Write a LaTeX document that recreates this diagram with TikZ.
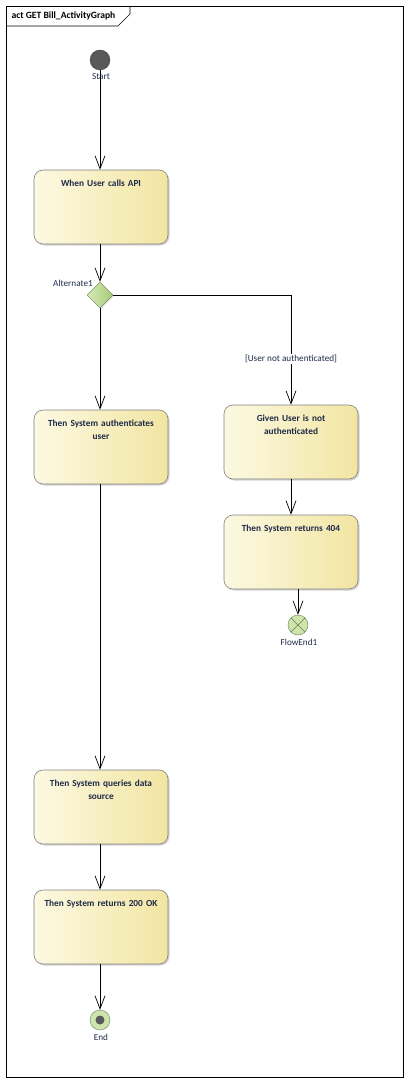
\documentclass[tikz,border=0pt]{standalone}
\usepackage{fontspec}
\setmainfont{Carlito}
\usetikzlibrary{arrows.meta,shadows,shapes.geometric}
\definecolor{boxleft}{HTML}{FCF9E2}
\definecolor{boxright}{HTML}{F2E5A2}
\definecolor{boxline}{HTML}{808080}
\definecolor{txt}{HTML}{1E2A48}
\definecolor{greenleft}{HTML}{D6EABA}
\definecolor{greenright}{HTML}{A8CB74}
\definecolor{greenline}{HTML}{6B7D55}
\definecolor{dot}{HTML}{595959}
\begin{document}
\begin{tikzpicture}[x=1pt,y=-1pt,
    action/.style={draw=boxline,line width=0.6pt,rounded corners=9pt,
        minimum width=134pt,minimum height=74pt,inner sep=0pt,
        left color=boxleft,right color=boxright,
        drop shadow={shadow xshift=1.5pt,shadow yshift=-1.5pt,opacity=0.35}},
    acttext/.style={anchor=north,yshift=-7pt,align=center,text width=126pt,
        text=txt,font=\bfseries\fontsize{9.3}{13}\selectfont},
    small/.style={text=txt,font=\fontsize{9.2}{11}\selectfont,inner sep=1pt},
    flow/.style={line width=0.7pt,-{Straight Barb[length=13pt,width=10pt,line width=0.7pt]}}]
\useasboundingbox (0,0) rectangle (409,1083);
\draw [black,line width=0.6pt] (6,6) rectangle (403,1077);
\draw [black,line width=0.6pt] (6,26) -- (118,26) -- (130,14) -- (130,6);
\node [anchor=west,text=black,font=\bfseries\fontsize{9.6}{11}\selectfont] (title) at (8,16) {act GET Bill\_ActivityGraph};
\node [circle,fill=dot,draw=dot!80!black,minimum size=20pt,inner sep=0pt] (start) at (100,60) {};
\node [small] (startlbl) at (101,77) {Start};
\node [action,label={[acttext]north:When User calls API}] (calls) at (101,207) {};
\node [diamond,draw=greenline,left color=greenleft,right color=greenright,
    minimum width=26pt,minimum height=26pt,inner sep=0pt,
    drop shadow={shadow xshift=1pt,shadow yshift=-1pt,opacity=0.3}] (alt) at (100,295) {};
\node [small,anchor=east] (altlbl) at (94,283) {Alternate1};
\node [action,label={[acttext]north:{Then System authenticates\\user}}] (auth) at (101,447) {};
\node [action,label={[acttext]north:{Given User is not\\authenticated}}] (notauth) at (291,442) {};
\node [action,label={[acttext]north:Then System returns 404}] (ret404) at (291,552) {};
\node [circle,draw=greenline,fill=greenleft!80!greenright,minimum size=20pt,inner sep=0pt,
    path picture={\draw [greenline,line width=0.6pt]
        (path picture bounding box.north west) -- (path picture bounding box.south east)
        (path picture bounding box.north east) -- (path picture bounding box.south west);}] (flowend) at (298,625) {};
\node [small] (flowendlbl) at (299,642) {FlowEnd1};
\node [action,label={[acttext]north:{Then System queries data\\source}}] (queries) at (101,807) {};
\node [action,label={[acttext]north:Then System returns 200 OK}] (ret200) at (101,927) {};
\node [circle,draw=greenline,fill=greenleft!80!greenright,minimum size=20pt,inner sep=0pt] (end) at (100,1020) {};
\fill [dot] (end) circle (4.5);
\node [small] (endlbl) at (101,1037) {End};
\draw [flow] (start) -- (start |- calls.north);
\draw [flow] (calls.south -| alt) -- (alt.north);
\draw [flow] (alt.south) -- (alt |- auth.north);
\draw [flow] (alt.east) -| (notauth.north) node [pos=0.79,small,fill=white] (guard) {[User not authenticated]};
\draw [flow] (notauth.south) -- (ret404.north);
\draw [flow] (ret404.south -| flowend) -- (flowend.north);
\draw [flow] (auth.south -| alt) -- (alt |- queries.north);
\draw [flow] (queries.south -| alt) -- (alt |- ret200.north);
\draw [flow] (ret200.south -| end) -- (end.north);
\end{tikzpicture}
\end{document}
